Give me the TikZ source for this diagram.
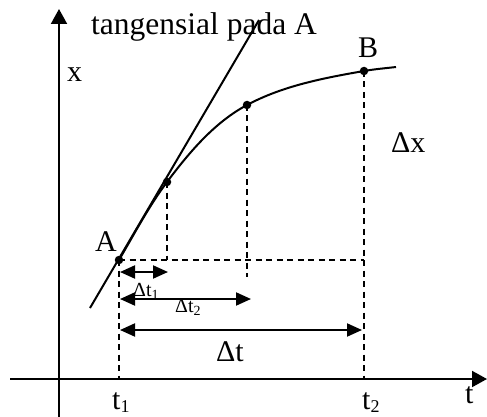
\documentclass[tikz,border=0pt]{standalone}
\usepackage{fontspec}
\setmainfont{Liberation Serif}
\usetikzlibrary{arrows.meta}
\newcommand{\lowsub}[1]{\raisebox{-0.13em}{\fontsize{18}{18}\selectfont #1}}
\newcommand{\smallsub}[1]{\raisebox{-0.15em}{\fontsize{14}{14}\selectfont #1}}
\begin{document}
\begin{tikzpicture}[x=1pt,y=-1pt,
  solid line/.style={line width=2pt},
  dash line/.style={line width=1.8pt,dash pattern=on 6pt off 4.5pt},
  axis arrow/.style={line width=2pt,-{Triangle[length=15pt,width=16pt]}},
  dim arrow/.style={line width=2pt,{Triangle[length=15pt,width=13pt]}-{Triangle[length=15pt,width=13pt]}},
  dotpt/.style={circle,fill=black,inner sep=0pt,minimum size=8.5pt},
  lbl/.style={inner sep=0pt,font=\fontsize{30}{32}\selectfont},
  smalllbl/.style={inner sep=0pt,font=\fontsize{20}{22}\selectfont}]
\useasboundingbox (0,0) rectangle (487,417);
% axes
\coordinate (xs) at (10,379);
\coordinate (xe) at (487,379);
\coordinate (ys) at (59,417);
\coordinate (ye) at (59,9);
\draw[axis arrow] (xs) -- (xe);
\draw[axis arrow] (ys) -- (ye);
% points
\node[dotpt] (A) at (119,260) {};
\node[dotpt] (P1) at (167,182) {};
\node[dotpt] (P2) at (247,105) {};
\node[dotpt] (B) at (364,71) {};
\coordinate (E) at (396,67);
% curve
\draw[solid line] (A.center) .. controls (134.2,234.1) and (149,206) .. (P1.center)
  .. controls (189.2,152.4) and (214.4,122.4) .. (P2.center)
  .. controls (283.1,85.7) and (323.8,78) .. (B.center)
  .. controls (374.8,69.1) and (385.1,68.3) .. (E);
% tangent
\coordinate (T0) at (90,308);
\coordinate (T1) at (259,20);
\draw[solid line] (T0) -- (T1);
% dashed guides
\coordinate (A0) at (119,379);
\coordinate (B0) at (364,379);
\coordinate (P1h) at (167,260);
\coordinate (P2h) at (247,277);
\coordinate (Bh) at (364,260);
\draw[dash line] (A.center) -- (A0);
\draw[dash line] (B.center) -- (B0);
\draw[dash line] (P1.center) -- (P1h);
\draw[dash line] (P2.center) -- (P2h);
\draw[dash line] (A.center) -- (Bh);
% dimension arrows
\coordinate (d1a) at (120,272); \coordinate (d1b) at (168,272);
\coordinate (d2a) at (120,299); \coordinate (d2b) at (251,299);
\coordinate (d3a) at (120,330); \coordinate (d3b) at (362,330);
\draw[dim arrow] (d1a) -- (d1b);
\draw[dim arrow] (d2a) -- (d2b);
\draw[dim arrow] (d3a) -- (d3b);
% labels
\node[lbl,anchor=base west,font=\fontsize{31.5}{33}\selectfont] (ltan) at (91,35) {tangensial pada A};
\node[lbl,anchor=base west] (lx) at (67,82) {x};
\node[lbl,anchor=base west] (lA) at (95,251) {A};
\node[lbl,anchor=base west] (lB) at (358,58) {B};
\node[lbl,anchor=base west] (ldx) at (391,153) {Δx};
\node[lbl,anchor=base west] (lt) at (465,403) {t};
\node[lbl,anchor=base west] (lt1) at (112,409) {t\lowsub{1}};
\node[lbl,anchor=base west] (lt2) at (362,409) {t\lowsub{2}};
\node[lbl,anchor=base west] (ldt) at (216,361) {Δt};
\node[smalllbl,anchor=base west] (ldt1) at (133,296) {Δt\smallsub{1}};
\node[smalllbl,anchor=base west] (ldt2) at (175,312) {Δt\smallsub{2}};
\end{tikzpicture}
\end{document}
